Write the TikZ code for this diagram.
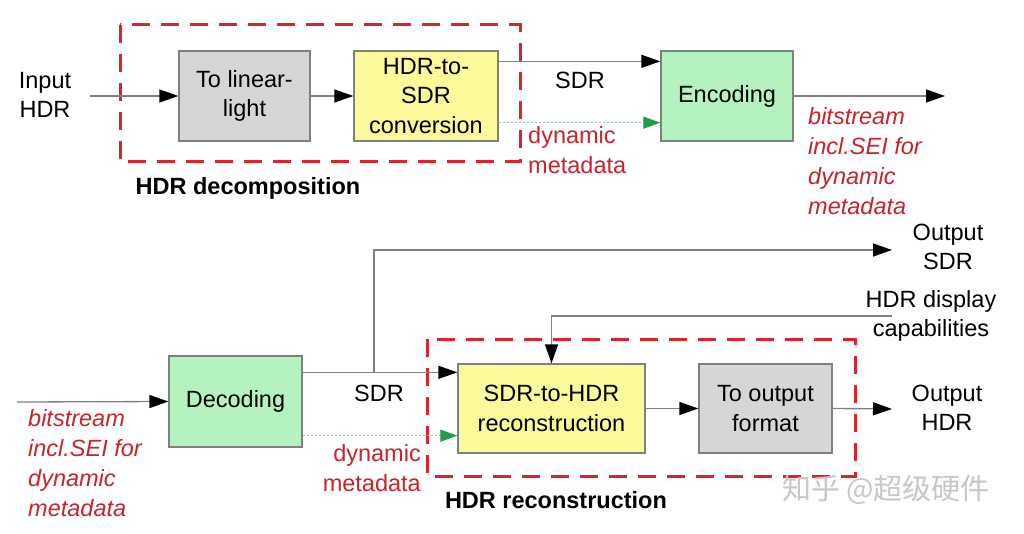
\documentclass[tikz,border=0pt]{standalone}
\usepackage{fontspec}
\setmainfont{Liberation Sans}
\newfontfamily\cjk{Noto Sans CJK SC}
\usetikzlibrary{arrows.meta,calc}
\definecolor{lncol}{HTML}{808080}
\definecolor{boxgray}{HTML}{D6D6D6}
\definecolor{boxyel}{HTML}{FCF99A}
\definecolor{boxgrn}{HTML}{B4F2C0}
\definecolor{redtxt}{HTML}{C8242B}
\definecolor{reddash}{HTML}{DD2229}
\definecolor{grnarr}{HTML}{1E9E46}
\definecolor{dotcol}{HTML}{9FBFBF}
\begin{document}
\begin{tikzpicture}[x=1pt,y=-1pt,
  every node/.style={font=\fontsize{23.5}{29.5}\selectfont, inner sep=0pt},
  blk/.style={draw=lncol, line width=1.3pt, align=center},
  gbox/.style={blk, fill=boxgray},
  ybox/.style={blk, fill=boxyel},
  ebox/.style={blk, fill=boxgrn},
  conn/.style={draw=lncol, line width=1.3pt, -{Triangle[length=19pt,width=13pt,color=black]}},
  meta/.style={draw=dotcol, line width=1.2pt, dash pattern=on 2pt off 2pt, -{Triangle[length=17pt,width=12pt,color=grnarr]}},
  grp/.style={draw=reddash, line width=3pt, dash pattern=on 18pt off 11pt},
  redlbl/.style={text=redtxt, align=left},
  redit/.style={text=redtxt, align=left, font=\fontsize{23.5}{30}\selectfont\itshape},
  bold/.style={font=\fontsize{23.5}{29.5}\selectfont\bfseries},
  lbl/.style={align=center}
]
\useasboundingbox[fill=white] (0,0) rectangle (1024,534);

% group boxes
\draw[grp] (120,25) rectangle (520,162);
\draw[grp] (427,339) rectangle (855,476);

% top row blocks
\node[gbox, minimum width=131pt, minimum height=90pt] (lin) at (244.5,96) {To linear-\\light};
\node[ybox, minimum width=144pt, minimum height=90pt] (h2s) at (426,96) {HDR-to-\\SDR\\conversion};
\node[ebox, minimum width=132pt, minimum height=90pt] (enc) at (727,96) {Encoding};

% bottom row blocks
\node[ebox, minimum width=133pt, minimum height=91pt] (dec) at (235.5,401.5) {Decoding};
\node[ybox, minimum width=187pt, minimum height=89pt] (s2h) at (551.5,408.5) {SDR-to-HDR\\reconstruction};
\node[gbox, minimum width=133pt, minimum height=89pt] (tof) at (765.5,408.5) {To output\\format};

% coordinates
\coordinate (inA) at (90,96);
\coordinate (outA) at (945,96);
\coordinate (sdrA) at ([yshift=-11pt]h2s.north east);
\coordinate (dynA) at ([yshift=19pt]h2s.south east);
\coordinate (inB) at (17,402);
\coordinate (sdrB) at ([yshift=-17pt]dec.north east);
\coordinate (dynB) at ([yshift=12pt]dec.south east);
\coordinate (br) at (374,373);
\coordinate (outS) at (892,250);
\coordinate (outH) at (892,409);
\coordinate (cap) at (892,316);

% top connectors
\draw[conn] (inA) -- (lin.west);
\draw[conn] (lin.east) -- (h2s.west);
\draw[conn] (sdrA) -- (sdrA -| enc.west);
\draw[meta] (dynA) -- (dynA -| enc.west);
\draw[conn] (enc.east) -- (outA);

% bottom connectors
\draw[conn] (inB) -- (dec.west);
\draw[conn] (sdrB) -- (sdrB -| s2h.west);
\draw[conn] (br) |- (outS);
\draw[meta] (dynB) -- (dynB -| s2h.west);
\draw[conn] (s2h.east) -- (tof.west);
\draw[conn] (tof.east) -- (outH);
\draw[conn] (cap) -| (s2h.north);

% labels top
\node[lbl] (tIn) at (45,95) {Input\\HDR};
\node (tSdrA) at (580,80) {SDR};
\node[redlbl, anchor=west] (tDynA) at (528,150) {dynamic\\metadata};
\node[redit, anchor=west] (tBsA) at (808,161) {bitstream\\incl.SEI for\\dynamic\\metadata};
\node[bold] (tDecomp) at (248,188) {HDR decomposition};

% labels bottom
\node[redit, anchor=west] (tBsB) at (28,463) {bitstream\\incl.SEI for\\dynamic\\metadata};
\node (tSdrB) at (379,393) {SDR};
\node[text=redtxt, align=right, anchor=east] (tDynB) at (421,468) {dynamic\\metadata};
\node[lbl] (tOutS) at (948,247) {Output\\SDR};
\node[lbl] (tCap) at (931,316) {HDR display\\capabilities};
\node[lbl] (tOutH) at (947,408) {Output\\HDR};
\node[bold] (tRecon) at (556,500) {HDR reconstruction};

% watermark
\node[text=black!22, font=\fontsize{29}{32}\cjk] (wm) at (886,490) {知乎 @超级硬件};
\end{tikzpicture}
\end{document}
